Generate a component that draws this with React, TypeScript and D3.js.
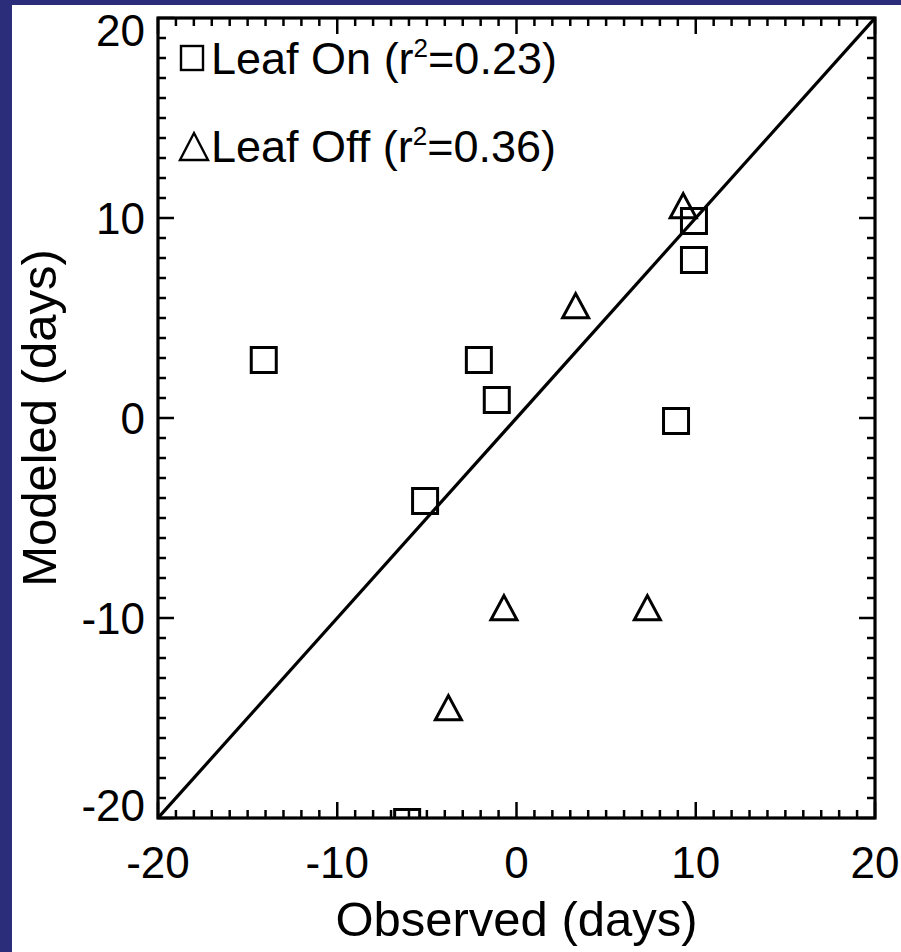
import React from "react";
import * as d3 from "d3";

const leafOnObserved = [-14.1, -2.1, -1.1, -5.1, 8.9, 9.9, 9.9, -6.1];
const leafOnModeled = [2.9, 2.9, 0.9, -4.15, -0.15, 9.85, 7.9, -20.2];
const leafOffObserved = [9.3, 3.3, -0.7, 7.3, -3.8];
const leafOffModeled = [10.6, 5.6, -9.5, -9.5, -14.5];
const majorTicks = [-20, -10, 0, 10, 20];
const minorTicks = d3.range(-20, 21, 1);
const legendLabels = [
  { name: "Leaf On", r2: "0.23", symbol: "square" },
  { name: "Leaf Off", r2: "0.36", symbol: "triangle" },
];

const W = 901;
const H = 952;
const FONT = "'Liberation Sans', Arial, Helvetica, sans-serif";

export default function App() {
  const x = d3.scaleLinear().domain([-20, 20]).range([158, 875]);
  const y = d3.scaleLinear().domain([-20, 20]).range([818, 18]);
  const [x0, x1] = x.range();
  const [y0, y1] = y.range();
  const sq = 12.5;
  const triPath = (cx: number, cy: number, s: number) =>
    `M${cx - s},${cy + s * 0.9}L${cx},${cy - s * 0.95}L${cx + s},${cy + s * 0.9}Z`;

  return (
    <svg
      width={W}
      height={H}
      style={{ position: "absolute", left: 0, top: 0, display: "block" }}
    >
      <rect x={0} y={0} width={W} height={H} fill="#ffffff" />
      <rect x={0} y={0} width={W} height={5} fill="#2c2d7a" />
      <rect x={0} y={0} width={12} height={H} fill="#2c2d7a" />
      <defs>
        <clipPath id="plotclip">
          <rect x={x0} y={y1} width={x1 - x0} height={y0 - y1} />
        </clipPath>
      </defs>
      <g stroke="#000" strokeWidth={2.5}>
        {minorTicks.map((t) => {
          const len = majorTicks.includes(t) ? 16 : 8;
          return (
            <g key={"t" + t}>
              <line x1={x(t)} x2={x(t)} y1={y0} y2={y0 - len} />
              <line x1={x(t)} x2={x(t)} y1={y1} y2={y1 + len} />
              <line x1={x0} x2={x0 + len} y1={y(t)} y2={y(t)} />
              <line x1={x1} x2={x1 - len} y1={y(t)} y2={y(t)} />
            </g>
          );
        })}
      </g>
      <rect
        x={x0}
        y={y1}
        width={x1 - x0}
        height={y0 - y1}
        fill="none"
        stroke="#000"
        strokeWidth={3.2}
      />
      <g clipPath="url(#plotclip)">
        <line
          x1={x(-20)}
          y1={y(-20)}
          x2={x(20)}
          y2={y(20)}
          stroke="#000"
          strokeWidth={3.2}
        />
        {leafOnObserved.map((v, i) => (
          <rect
            key={"s" + i}
            x={x(v) - sq}
            y={y(leafOnModeled[i]) - sq}
            width={sq * 2}
            height={sq * 2}
            fill="none"
            stroke="#000"
            strokeWidth={3}
          />
        ))}
        {leafOffObserved.map((v, i) => (
          <path
            key={"tr" + i}
            d={triPath(x(v), y(leafOffModeled[i]), 13)}
            fill="none"
            stroke="#000"
            strokeWidth={3}
            strokeLinejoin="miter"
          />
        ))}
      </g>
      <g fontFamily={FONT} fontSize={44} fill="#000">
        {majorTicks.map((t) => (
          <text key={"xl" + t} x={x(t)} y={878} textAnchor="middle">
            {t}
          </text>
        ))}
        {majorTicks.map((t) => {
          const off = t === 20 ? 12 : t === -20 ? -13 : 0;
          return (
            <text
              key={"yl" + t}
              x={145}
              y={y(t) + off + 16}
              textAnchor="end"
            >
              {t}
            </text>
          );
        })}
      </g>
      <g fontFamily={FONT} fontSize={45} fill="#000">
        {legendLabels.map((l, i) => {
          const by = 74 + i * 88;
          return (
            <g key={l.name}>
              {l.symbol === "square" ? (
                <rect
                  x={181}
                  y={by - 28}
                  width={22}
                  height={24}
                  fill="none"
                  stroke="#000"
                  strokeWidth={2.4}
                />
              ) : (
                <path
                  d={`M180,${by - 2}L194,${by - 29}L208,${by - 2}Z`}
                  fill="none"
                  stroke="#000"
                  strokeWidth={2.4}
                />
              )}
              <text x={211} y={by}>
                {l.name} (r
                <tspan fontSize={26} dy={-17}>
                  2
                </tspan>
                <tspan dy={17}>={l.r2})</tspan>
              </text>
            </g>
          );
        })}
      </g>
      <g fontFamily={FONT} fontSize={49} fill="#000">
        <text x={(x0 + x1) / 2} y={936} textAnchor="middle">
          Observed (days)
        </text>
        <text
          transform={`translate(56, ${(y0 + y1) / 2}) rotate(-90)`}
          textAnchor="middle"
        >
          Modeled (days)
        </text>
      </g>
    </svg>
  );
}
